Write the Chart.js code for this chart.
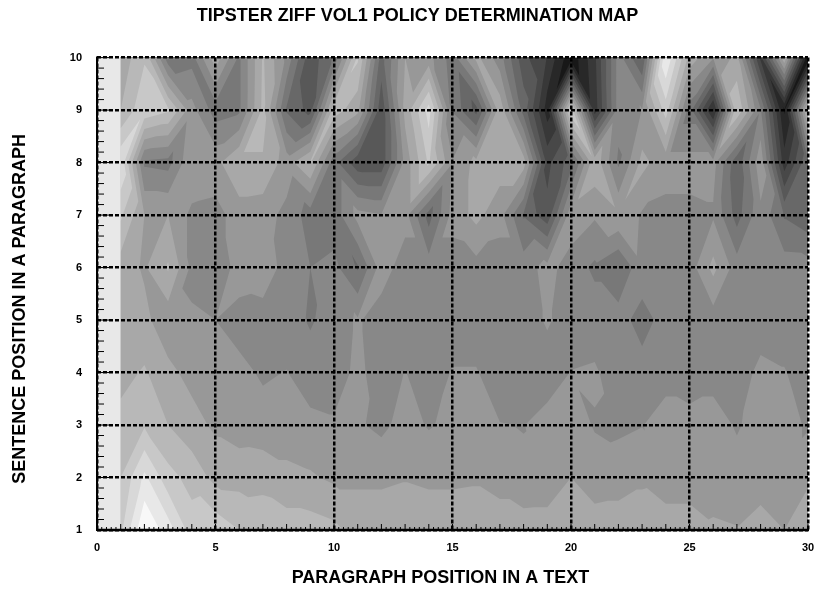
<!DOCTYPE html>
<html><head><meta charset="utf-8">
<script src="https://cdn.jsdelivr.net/npm/chart.js@4"></script>
<style>html,body{margin:0;padding:0;background:#fff}canvas{display:block}</style>
</head><body><canvas id="c" width="814" height="590"></canvas>
<script>
const titleText = "TIPSTER ZIFF VOL1 POLICY DETERMINATION MAP";
const xTitle = "PARAGRAPH POSITION IN A TEXT";
const yTitle = "SENTENCE POSITION IN A PARAGRAPH";
const xNodes = [1,2,3,4,5,6,7,8,9,10,11,12,13,14,15,16,17,18,19,20,21,22,23,24,25,26,27,28,29,30];
const yNodes = [1,2,3,4,5,6,7,8,9,10];
const firstColumnValue = 224;
// shade read at every node, columns 1..30
const row1  = [205,255,232,200,203,192,186,184,184,180,170,170,170,170,170,170,170,170,170,170,170,170,170,172,172,163,161,170,160,168];
const row2  = [192,228,198,186,171,170,171,165,162,157,157,157,159,157,157,158,153,146,147,160,150,152,157,148,148,151,150,149,150,158];
const row3  = [182,190,176,166,157,152,150,150,148,146,146,140,150,142.6,148,150,144.5,143.6,150,150,143,141,143.5,150,150,150,142.5,150,150,142];
const row4  = [170,178,164,155,150,148,142,144.5,136,136,148,136,144.5,136,145,145,136,136,136,144.5,146,136,136,139,135,139,136,148,145,136];
const row5  = [165,164,150,146,144,138,136,136,126,136,146,136,136,136,136,136,136,136,146,136,136,136,120,136,136,136,136,136,136,136];
const row6  = [168,158,178,140,130,152,155,137,128,133,110,152,136,136,136,138,136,136,150,136,125,112,140,136,136,165,136,135,136,135];
const row7  = [195,160,160,140,138,152,150,140,120,118,150,145,150,105,150,165,150,110,85,155,146,158,142,140,140,142,105,140,110,100];
const row8  = [222,125,122,158,155,175,175,152,178,118,85,85,150,195,145,165,168,168,75,105,172,125,165,150,150,150,100,155,55,110];
const row9  = [176,205,195,150,120,125,180,110,90,185,165,85,165,215,125,90,170,105,40,205,55,135,145,200,120,45,190,130,30,185];
const row10 = [165,190,118,122,170,125,178,140,85,115,195,105,160,150,120,165,135,85,62,20,60,135,95,240,170,145,165,60,175,20];
const shadeRows = [row1,row2,row3,row4,row5,row6,row7,row8,row9,row10];
const bandWidth = 16;

const nodePoints = [];
yNodes.forEach((y,j)=>xNodes.forEach((x,i)=>nodePoints.push({x,y,z:shadeRows[j][i]})));

function bandGrey(level){ return Math.min(255, level + bandWidth/2); }
function clipTri(t,L){
  const out=[];
  for(let i=0;i<3;i++){
    const a=t[i],b=t[(i+1)%3];
    const ia=a.z>=L, ib=b.z>=L;
    if(ia) out.push(a);
    if(ia!==ib){const k=(L-a.z)/(b.z-a.z);out.push({x:a.x+(b.x-a.x)*k,y:a.y+(b.y-a.y)*k,z:L});}
  }
  return out;
}
const contourPlugin = {
  id:'contour',
  afterLayout(chart){
    const wrap=(obj,name,dx,dy)=>{
      if(obj['_w'+name])return;obj['_w'+name]=true;
      const orig=obj[name];
      obj[name]=function(...a){const c=chart.ctx;c.save();c.translate(dx,dy);orig.apply(this,a);c.restore();};
    };
    wrap(chart.titleBlock,'draw',10.5,0);
    wrap(chart.scales.x,'drawTitle',-12,0);
    wrap(chart.scales.y,'drawTitle',0,15);
  },
  beforeDatasetsDraw(chart){
    const {ctx,chartArea:ca,scales:{x:sx,y:sy}} = chart;
    const pts = chart.data.datasets[0].data, nx=xNodes.length, ny=yNodes.length;
    const at=(i,j)=>pts[j*nx+i];
    const tris=[];
    for(let j=0;j<ny-1;j++)for(let i=0;i<nx-1;i++){
      const a=at(i,j),b=at(i+1,j),c=at(i+1,j+1),d=at(i,j+1);
      if(Math.abs(a.z-c.z)<=Math.abs(b.z-d.z)) tris.push([a,b,c],[a,c,d]);
      else tris.push([a,b,d],[b,c,d]);
    }
    const P=p=>[sx.getPixelForValue(p.x),sy.getPixelForValue(p.y)];
    ctx.save();
    ctx.beginPath();ctx.rect(ca.left,ca.top,ca.width,ca.height);ctx.clip();
    for(let L=0;L<=256;L+=bandWidth){
      const g=bandGrey(L);
      ctx.fillStyle=`rgb(${g},${g},${g})`;
      ctx.beginPath();
      tris.forEach(t=>{
        const poly=clipTri(t,L);
        if(poly.length<3)return;
        poly.forEach((p,k)=>{const q=P(p);k?ctx.lineTo(q[0],q[1]):ctx.moveTo(q[0],q[1]);});
        ctx.closePath();
      });
      ctx.fill();
    }
    const f=bandGrey(Math.floor(firstColumnValue/bandWidth)*bandWidth);
    ctx.fillStyle=`rgb(${f},${f},${f})`;
    const x0=sx.getPixelForValue(0),x1=sx.getPixelForValue(1);
    ctx.fillRect(x0,ca.top,x1-x0,ca.height);
    ctx.restore();
  },
  afterDraw(chart){
    const {ctx,scales:{x:sx,y:sy}} = chart;
    const xl=sx.getPixelForValue(0), yb=sy.getPixelForValue(1);
    ctx.save();ctx.strokeStyle='#000';
    const line=(a,b,c,d,w)=>{ctx.lineWidth=w;ctx.beginPath();ctx.moveTo(a,b);ctx.lineTo(c,d);ctx.stroke();};
    for(let k=0;k<=45;k++){
      const v=1+k/5, p=sy.getPixelForValue(v);
      line(xl,p,xl+(k%5===0?13:7),p,1);
    }
    for(let k=0;k<=150;k++){
      const p=sx.getPixelForValue(k/5);
      line(p,yb,p,yb-(k%5===0?6:3),1);
    }
    line(xl,sy.getPixelForValue(10)-1,xl,yb+1,2);
    line(xl,yb,sx.getPixelForValue(30)+1,yb,2.5);
    ctx.restore();
  }
};
const font=(s)=>({family:'"Liberation Sans",Arial,sans-serif',size:s,weight:'bold'});
new Chart(document.getElementById('c'),{
  type:'scatter',
  data:{datasets:[{data:nodePoints,pointRadius:0,showLine:false}]},
  plugins:[contourPlugin],
  options:{
    responsive:false,animation:false,
    layout:{padding:0},
    plugins:{legend:{display:false},tooltip:{enabled:false},
      title:{display:true,text:titleText,color:'#000',font:font(18),padding:{top:5,bottom:31}}},
    scales:{
      x:{type:'linear',min:0,max:30,
        afterFit(s){s.height=60;s.paddingRight=6;s.paddingLeft=0;},
        ticks:{stepSize:5,color:'#000',font:font(11),padding:11,maxRotation:0},
        grid:{color:'#000',lineWidth:2.5,tickLength:0,z:1},
        border:{display:false,dash:[4,2]},
        title:{display:true,text:xTitle,color:'#000',font:font(18),padding:{top:0,bottom:1}}},
      y:{type:'linear',min:1,max:10,
        afterFit(s){s.width=97;},
        ticks:{stepSize:1,color:'#000',font:font(11),padding:15},
        grid:{color:'#000',lineWidth:2.5,tickLength:0,z:1},
        border:{display:false,dash:[4,2]},
        title:{display:true,text:yTitle,color:'#000',font:font(18),padding:{top:9,bottom:0}}}
    }
  }
});
</script></body></html>
